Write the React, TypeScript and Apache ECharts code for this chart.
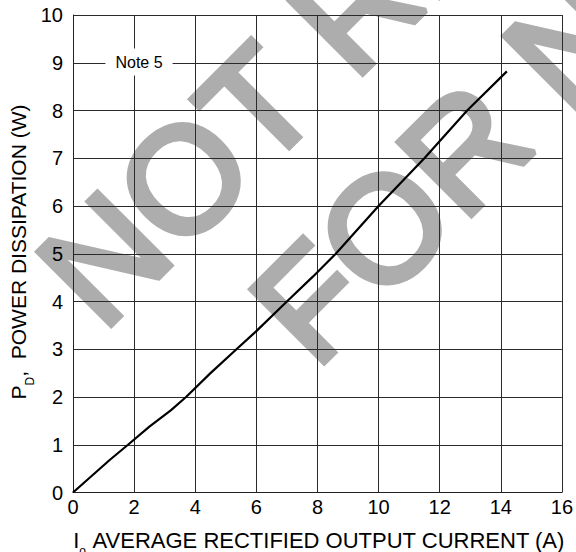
import React, { useEffect, useRef } from 'react';
import * as echarts from 'echarts';

// I_o average rectified output current (A)
const currentA = [0, 1.2, 1.8, 2.5, 3.2, 3.7, 4.5, 5.35, 6.0, 7.0, 7.85, 8.6, 10.0, 11.5, 12.9, 14.2];
// P_D power dissipation (W)
const powerW = [0, 0.68, 1.0, 1.38, 1.72, 2.0, 2.5, 3.0, 3.38, 4.0, 4.52, 5.0, 6.0, 7.0, 8.0, 8.82];

const xRange = [0, 16];
const xStep = 2;
const yRange = [0, 10];
const yStep = 1;

const noteText = 'Note 5';
const watermarkLines = ['NOT RECOMMENDED', 'FOR NEW DESIGN'];
const xNameMain = 'I';
const xNameSub = 'o';
const xNameRest = '\u00a0AVERAGE RECTIFIED OUTPUT CURRENT (A)';
const yNameMain = 'P';
const yNameSub = 'D';
const yNameRest = ',\u00a0 POWER DISSIPATION (W)';

const FONT = '"Liberation Sans", Arial, Helvetica, sans-serif';
const WM = '#adadad';

export default function App() {
  const ref = useRef<HTMLDivElement>(null);
  useEffect(() => {
    if (!ref.current) return;
    const chart = echarts.init(ref.current, undefined, { renderer: 'svg' });
    const data = currentA.map((x, i) => [x, powerW[i]]);
    const rich = (mainSize: number) => ({
      m: { fontSize: mainSize, lineHeight: 34, fontFamily: FONT, fill: '#000', verticalAlign: 'middle' },
      s: { fontSize: 12, lineHeight: 34, fontFamily: FONT, fill: '#000', verticalAlign: 'bottom' },
    });
    const wmStyle = (text: string) => ({
      text, fontSize: 150, fontFamily: FONT, fill: WM, stroke: WM, lineWidth: 6,
      align: 'left', verticalAlign: 'middle',
    });
    chart.setOption({
      animation: false,
      backgroundColor: '#fff',
      grid: { left: 73, right: 9, top: 15, bottom: 59.5 },
      xAxis: {
        type: 'value',
        min: xRange[0],
        max: xRange[1],
        interval: xStep,
        axisLine: { show: true, lineStyle: { color: '#222', width: 1 } },
        axisTick: { show: false },
        axisLabel: { color: '#000', fontSize: 20, fontFamily: FONT, margin: 4 },
        splitLine: { show: true, lineStyle: { color: '#2a2a2a', width: 1 } },
      },
      yAxis: {
        type: 'value',
        min: yRange[0],
        max: yRange[1],
        interval: yStep,
        axisLine: { show: true, lineStyle: { color: '#222', width: 1 } },
        axisTick: { show: false },
        axisLabel: { color: '#000', fontSize: 20, fontFamily: FONT, margin: 10 },
        splitLine: { show: true, lineStyle: { color: '#2a2a2a', width: 1 } },
      },
      graphic: [
        {
          type: 'group',
          x: 104,
          y: 335,
          rotation: Math.PI / 4,
          z: -10,
          silent: true,
          children: [
            { type: 'text', x: 0, y: -54, z: -10, style: wmStyle(watermarkLines[0]) },
            { type: 'text', x: 124, y: 123, z: -10, style: wmStyle(watermarkLines[1]) },
          ],
        },
        {
          type: 'text',
          x: 139,
          y: 62,
          z: 20,
          style: {
            text: noteText, fontSize: 16, fontFamily: FONT, fill: '#000', align: 'center', verticalAlign: 'middle',
            backgroundColor: '#fff', padding: [5.5, 10],
          },
        },
        {
          type: 'text',
          x: 319,
          y: 540,
          z: 20,
          style: {
            text: `{m|${xNameMain}}{s|${xNameSub}}{m|${xNameRest}}`,
            rich: rich(22), align: 'center', verticalAlign: 'middle',
          },
        },
        {
          type: 'text',
          x: 18.5,
          y: 252,
          rotation: Math.PI / 2,
          z: 20,
          style: {
            text: `{m|${yNameMain}}{s|${yNameSub}}{m|${yNameRest}}`,
            rich: rich(21), align: 'center', verticalAlign: 'middle',
          },
        },
      ],
      series: [
        {
          type: 'line',
          data,
          showSymbol: false,
          symbol: 'none',
          smooth: false,
          lineStyle: { color: '#000', width: 2.2 },
          z: 5,
        },
      ],
    });
    return () => chart.dispose();
  }, []);
  return <div ref={ref} style={{ position: 'absolute', left: 0, top: 0, width: 576, height: 552 }} />;
}
